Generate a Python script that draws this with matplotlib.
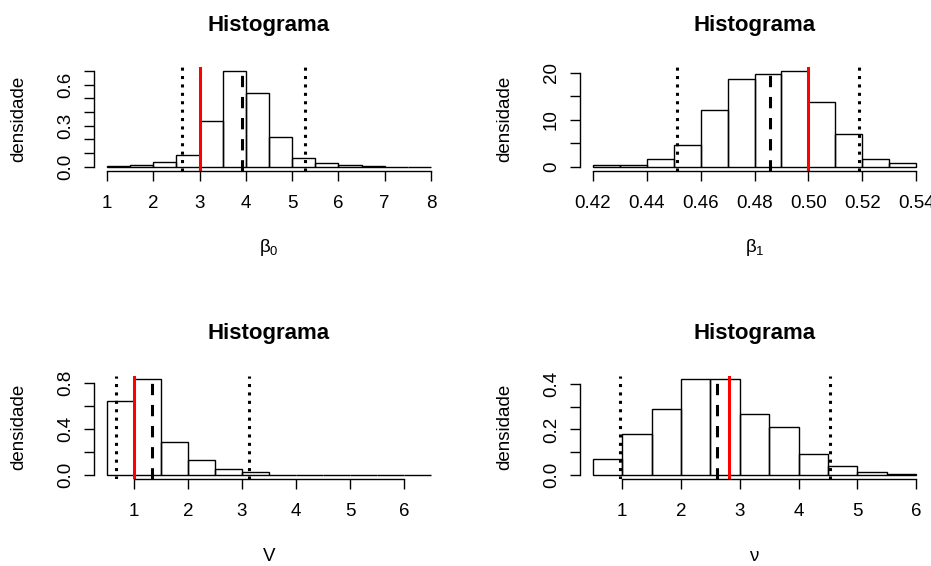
import numpy as np
import matplotlib
matplotlib.use("Agg")
from matplotlib import pyplot as plt

plt.rcParams['font.family'] = ['Liberation Sans', 'DejaVu Sans']
plt.rcParams['mathtext.fontset'] = 'custom'
plt.rcParams['mathtext.rm'] = 'Liberation Sans'

# histogram densities (bin width fixed per panel)
b0_start, b0_width = 1.0, 0.5
b0_dens = [0.002, 0.012, 0.034, 0.085, 0.334, 0.70, 0.54, 0.22,
           0.066, 0.024, 0.011, 0.002, 0.001, 0.001]
b0_lines = [2.63, 3.0, 3.91, 5.27]      # lower CI, true value, mean, upper CI

b1_start, b1_width = 0.42, 0.01
b1_dens = [0.25, 0.3, 1.56, 4.6, 12.06, 18.6, 19.7, 20.4, 13.8, 6.95, 1.56, 0.7]
b1_lines = [0.4511, 0.50, 0.4858, 0.5187]

v_start, v_width = 0.5, 0.5
v_dens = [0.645, 0.829, 0.285, 0.127, 0.052, 0.026, 0.005, 0.003,
          0.002, 0.001, 0.001, 0.001]
v_lines = [0.66, 1.0, 1.34, 3.13]

nu_start, nu_width = 0.5, 0.5
nu_dens = [0.07, 0.18, 0.29, 0.419, 0.419, 0.267, 0.212, 0.092, 0.038, 0.015, 0.006]
nu_lines = [0.955, 2.81, 2.62, 4.54]

panels = [
    dict(start=b0_start, width=b0_width, dens=b0_dens, lines=b0_lines,
         xticks=[1, 2, 3, 4, 5, 6, 7, 8], xlabels=['1', '2', '3', '4', '5', '6', '7', '8'],
         yticks=[0, 0.1, 0.2, 0.3, 0.4, 0.5, 0.6, 0.7], ylabels={0: '0.0', 0.3: '0.3', 0.6: '0.6'},
         xlab=r'$\mathregular{\beta_0}$'),
    dict(start=b1_start, width=b1_width, dens=b1_dens, lines=b1_lines,
         xticks=[0.42, 0.44, 0.46, 0.48, 0.50, 0.52, 0.54],
         xlabels=['0.42', '0.44', '0.46', '0.48', '0.50', '0.52', '0.54'],
         yticks=[0, 5, 10, 15, 20], ylabels={0: '0', 10: '10', 20: '20'},
         xlab=r'$\mathregular{\beta_1}$'),
    dict(start=v_start, width=v_width, dens=v_dens, lines=v_lines,
         xticks=[1, 2, 3, 4, 5, 6], xlabels=['1', '2', '3', '4', '5', '6'],
         yticks=[0, 0.2, 0.4, 0.6, 0.8], ylabels={0: '0.0', 0.4: '0.4', 0.8: '0.8'},
         xlab='V'),
    dict(start=nu_start, width=nu_width, dens=nu_dens, lines=nu_lines,
         xticks=[1, 2, 3, 4, 5, 6], xlabels=['1', '2', '3', '4', '5', '6'],
         yticks=[0, 0.1, 0.2, 0.3, 0.4], ylabels={0: '0.0', 0.2: '0.2', 0.4: '0.4'},
         xlab=r'$\mathregular{\nu}$'),
]

W, H = 931, 566
fig = plt.figure(figsize=(W / 100, H / 100), dpi=100)

# axes boxes in pixels: left, top, right, bottom
boxes = [(94, 67, 444, 170.5), (580, 67, 929, 170.5),
         (94, 375.5, 444, 479), (580, 375.5, 929, 479)]

line_styles = [
    dict(color='black', linestyle=(0, (1, 1.75))),   # dotted
    dict(color='red', linestyle='-'),
    dict(color='black', linestyle=(0, (3.7, 3.2))),  # dashed
    dict(color='black', linestyle=(0, (1, 1.75))),
]

for p, (l, t, r, b) in zip(panels, boxes):
    ax = fig.add_axes([l / W, (H - b) / H, (r - l) / W, (b - t) / H])
    n = len(p['dens'])
    edges = p['start'] + p['width'] * np.arange(n)
    ax.bar(edges, p['dens'], width=p['width'], align='edge', fill=False,
           edgecolor='black', linewidth=1.0)
    for v, st in zip(p['lines'], line_styles):
        ax.axvline(v, linewidth=2.2, **st)

    lo, hi = p['start'], p['start'] + p['width'] * n
    pad = 0.04 * (hi - lo)
    ax.set_xlim(lo - pad, hi + pad)
    ymax = max(p['dens'])
    ax.set_ylim(-0.04 * ymax, 1.04 * ymax)

    for s in ['top', 'right']:
        ax.spines[s].set_visible(False)
    ax.spines['left'].set_bounds(p['yticks'][0], p['yticks'][-1])
    ax.spines['bottom'].set_bounds(p['xticks'][0], p['xticks'][-1])
    ax.spines['left'].set_linewidth(1.0)
    ax.spines['bottom'].set_linewidth(1.0)

    ax.set_xticks(p['xticks'])
    ax.set_xticklabels(p['xlabels'])
    ax.set_yticks(p['yticks'])
    ax.set_yticklabels([p['ylabels'].get(v, '') for v in p['yticks']])
    ax.tick_params(direction='out', length=7.5, width=1.0, labelsize=13.5)
    ax.tick_params(axis='x', pad=10)
    ax.tick_params(axis='y', pad=7, labelrotation=90)
    for lab in ax.get_yticklabels():
        lab.set_va('center')

    ax.set_title('Histograma', fontsize=16, fontweight='bold', pad=26)
    ax.set_xlabel(p['xlab'], fontsize=13.5, va='center')
    ax.xaxis.set_label_coords(0.5, -77.5 / (b - t))
    ax.set_ylabel('densidade', fontsize=13.5, va='center', ha='center')
    ax.yaxis.set_label_coords(-75 / (r - l), 0.5)

fig.savefig('out.png', dpi=100)
